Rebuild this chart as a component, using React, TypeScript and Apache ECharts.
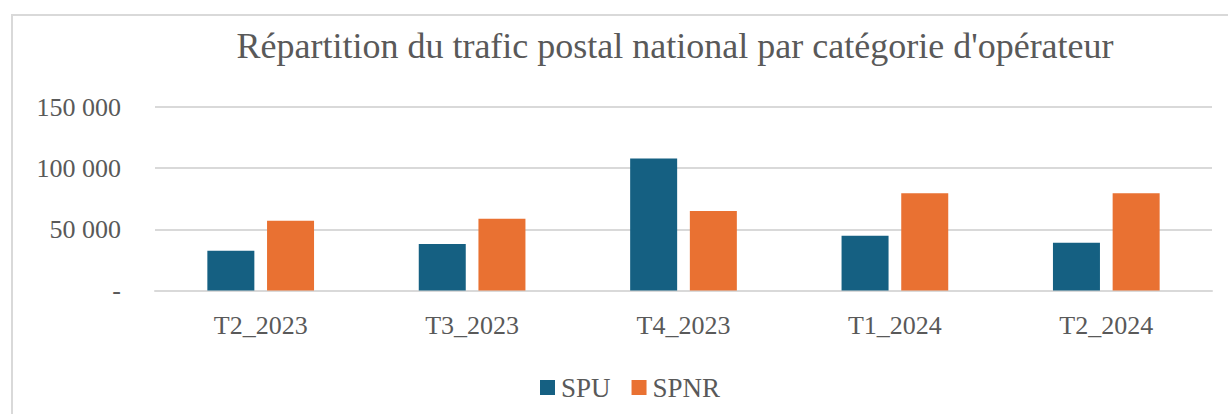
import React, { useEffect, useRef } from "react";
import * as echarts from "echarts";

const categories = ["T2_2023", "T3_2023", "T4_2023", "T1_2024", "T2_2024"];
const spuValues = [32500, 38000, 108000, 44700, 39000];
const spnrValues = [57000, 58600, 64900, 79400, 79400];
const yTicks = [0, 50000, 100000, 150000];
const titleText = "Répartition du trafic postal national par catégorie d'opérateur";

const FONT = "'Liberation Serif', serif";
const GREY = "#595959";

function fmt(v: number): string {
  if (v === 0) return "-";
  return String(v).replace(/\B(?=(\d{3})+(?!\d))/g, " ");
}

export default function App() {
  const ref = useRef<HTMLDivElement>(null);
  useEffect(() => {
    if (!ref.current) return;
    const chart = echarts.init(ref.current, undefined, { renderer: "svg" });
    chart.setOption({
      animation: false,
      backgroundColor: "#ffffff",
      graphic: [
        {
          type: "rect",
          shape: { x: 12, y: 15, width: 1400, height: 600 },
          style: { fill: "none", stroke: "#d9d9d9", lineWidth: 2 },
          silent: true,
        },
      ],
      title: {
        text: titleText,
        left: 670,
        top: 23,
        textAlign: "center",
        textStyle: { fontFamily: FONT, fontSize: 36, fontWeight: "normal", color: GREY },
      },
      legend: {
        left: 535,
        top: 369,
        itemWidth: 15,
        itemHeight: 15,
        itemGap: 21,
        icon: "rect",
        textStyle: { fontFamily: FONT, fontSize: 27, color: GREY, padding: [0, 0, 0, 1] },
        data: ["SPU", "SPNR"],
      },
      grid: { left: 155, right: 16, top: 107, bottom: 123.5, containLabel: false },
      xAxis: {
        type: "category",
        data: categories,
        axisLine: { lineStyle: { color: "#d9d9d9", width: 2 } },
        axisTick: { show: false },
        axisLabel: { fontFamily: FONT, fontSize: 26, color: GREY, margin: 22 },
      },
      yAxis: {
        type: "value",
        min: yTicks[0],
        max: yTicks[yTicks.length - 1],
        interval: yTicks[1] - yTicks[0],
        axisLine: { show: false },
        axisTick: { show: false },
        splitLine: { lineStyle: { color: "#d9d9d9", width: 2 } },
        axisLabel: { fontFamily: FONT, fontSize: 26, color: GREY, margin: 34, formatter: (v: number) => fmt(v) },
      },
      series: [
        {
          name: "SPU",
          type: "bar",
          data: spuValues,
          barWidth: 47,
          barGap: "27%",
          itemStyle: { color: "#156082" },
        },
        {
          name: "SPNR",
          type: "bar",
          data: spnrValues,
          barWidth: 47,
          itemStyle: { color: "#e97132" },
        },
      ],
    });
    return () => chart.dispose();
  }, []);
  return <div ref={ref} style={{ position: "absolute", left: 0, top: 0, width: 1228, height: 414 }} />;
}
